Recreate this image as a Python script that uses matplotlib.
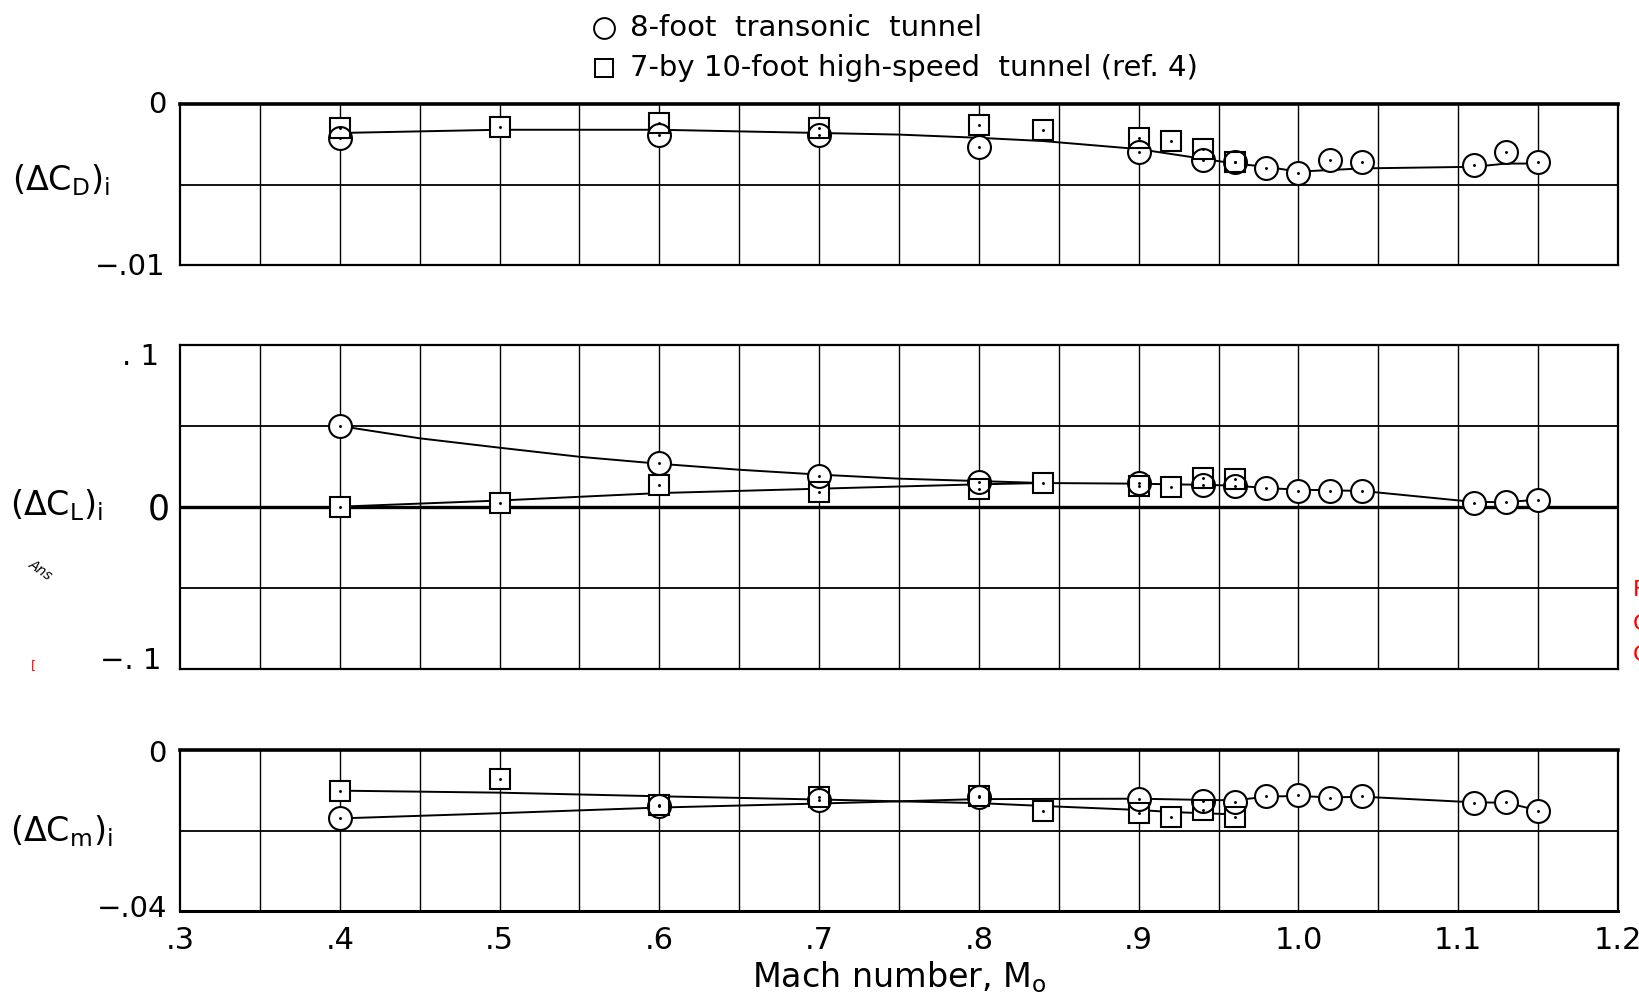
import numpy as np
import matplotlib
matplotlib.use("Agg")
import matplotlib.pyplot as plt

plt.rcParams['font.family'] = ['DejaVu Sans']
plt.rcParams['mathtext.fontset'] = 'dejavusans'

# ---------------- data ----------------
# 8-foot transonic tunnel (circles)
mach_8ft = [0.40, 0.60, 0.70, 0.80, 0.90, 0.94, 0.96, 0.98, 1.00, 1.02, 1.04, 1.11, 1.13, 1.15]
cd_8ft = [-0.0021, -0.0019, -0.0019, -0.0027, -0.0030, -0.0035, -0.0036, -0.0040, -0.0043,
          -0.0035, -0.0036, -0.0038, -0.0030, -0.0036]
cl_8ft = [0.050, 0.027, 0.019, 0.0155, 0.0150, 0.0135, 0.0130, 0.0115, 0.0100, 0.0100,
          0.0100, 0.0026, 0.0028, 0.0045]
cm_8ft = [-0.0168, -0.0138, -0.0124, -0.0116, -0.0122, -0.0127, -0.0129, -0.0114, -0.0112,
          -0.0120, -0.0115, -0.0131, -0.0130, -0.0151]

# 7- by 10-foot high-speed tunnel (squares)
mach_7x10 = [0.40, 0.50, 0.60, 0.70, 0.80, 0.84, 0.90, 0.92, 0.94, 0.96]
cd_7x10 = [-0.0015, -0.0014, -0.0012, -0.0015, -0.0013, -0.0016, -0.0021, -0.0023, -0.0028, -0.0036]
cl_7x10 = [0.0002, 0.0025, 0.0134, 0.0095, 0.0110, 0.0146, 0.0130, 0.0122, 0.0180, 0.0170]
cm_7x10 = [-0.0101, -0.0073, -0.0137, -0.0118, -0.0115, -0.0152, -0.0157, -0.0167, -0.0148, -0.0166]

# faired curves
fair_cd_mach = [0.40, 0.50, 0.60, 0.70, 0.75, 0.80, 0.84, 0.90, 0.94, 0.96, 0.98, 1.00,
                1.02, 1.04, 1.11, 1.13, 1.15]
fair_cd = [-0.0018, -0.0016, -0.0016, -0.0018, -0.0019, -0.0021, -0.0023, -0.0028, -0.0034,
           -0.0037, -0.0039, -0.0042, -0.0041, -0.0040, -0.0039, -0.0037, -0.0037]

fair_cl_8ft_mach = [0.40, 0.45, 0.50, 0.55, 0.60, 0.65, 0.70, 0.75, 0.80, 0.84, 0.90, 0.92,
                    0.94, 0.96, 0.98, 1.00, 1.02, 1.04, 1.11, 1.13, 1.15]
fair_cl_8ft = [0.050, 0.0424, 0.0366, 0.031, 0.0267, 0.023, 0.020, 0.0175, 0.016, 0.0148,
               0.0144, 0.0140, 0.0137, 0.0132, 0.0117, 0.0107, 0.0103, 0.0099, 0.0031,
               0.0030, 0.0045]
fair_cl_7x10_mach = [0.40, 0.50, 0.60, 0.70, 0.80, 0.84]
fair_cl_7x10 = [0.0002, 0.0040, 0.0086, 0.0113, 0.0140, 0.0148]

fair_cm_8ft_mach = [0.40, 0.50, 0.60, 0.70, 0.80, 0.90, 0.94, 0.96, 0.98, 1.00, 1.02, 1.04,
                    1.11, 1.13, 1.15]
fair_cm_8ft = [-0.0170, -0.0157, -0.0143, -0.0133, -0.0122, -0.0121, -0.0124, -0.0125,
               -0.0116, -0.0114, -0.0118, -0.0116, -0.0130, -0.0131, -0.0150]
fair_cm_7x10_mach = [0.40, 0.50, 0.60, 0.70, 0.80, 0.84, 0.90, 0.92, 0.94, 0.96]
fair_cm_7x10 = [-0.0101, -0.0106, -0.0115, -0.0123, -0.0132, -0.0139, -0.0149, -0.0154,
                -0.0157, -0.0160]

x_ticks = [0.3, 0.4, 0.5, 0.6, 0.7, 0.8, 0.9, 1.0, 1.1, 1.2]
x_tick_labels = ['.3', '.4', '.5', '.6', '.7', '.8', '.9', '1.0', '1.1', '1.2']

# ---------------- figure ----------------
W, H = 1639, 1000
fig = plt.figure(figsize=(W / 100, H / 100), dpi=100)


def px_axes(top, bottom, left=180, right=1618):
    return fig.add_axes([left / W, 1 - bottom / H, (right - left) / W, (bottom - top) / H])


ax_cd = px_axes(104, 265)
ax_cl = px_axes(345, 669)
ax_cm = px_axes(750, 911)

LW_GRID = 1.0
LW_DATA = 1.4


def style_axes(ax, ylim, hlines, thick_top=False):
    ax.set_xlim(0.3, 1.2)
    ax.set_ylim(*ylim)
    ax.set_xticks(x_ticks)
    ax.set_xticks(np.arange(0.35, 1.2, 0.1), minor=True)
    ax.tick_params(which='both', length=0, labelleft=False, labelbottom=False)
    ax.set_yticks([])
    for xv in list(x_ticks[1:-1]) + list(np.arange(0.35, 1.2, 0.1)):
        ax.axvline(xv, color='black', lw=LW_GRID, zorder=1)
    for yv, lw in hlines:
        ax.axhline(yv, color='black', lw=lw, zorder=1)
    for s in ax.spines.values():
        s.set_linewidth(1.6)
    if thick_top:
        ax.spines['top'].set_linewidth(2.6)


style_axes(ax_cd, (-0.01, 0.0), [(-0.005, 1.3)], thick_top=True)
style_axes(ax_cl, (-0.1, 0.1), [(0.05, 1.3), (0.0, 2.4), (-0.05, 1.3)])
style_axes(ax_cm, (-0.04, 0.0), [(-0.02, 1.3)], thick_top=True)
ax_cm.spines['bottom'].set_linewidth(2.2)

MS_C = 16.5
MS_S = 14.0
MEW = 1.5


def draw_points(ax, xs, ys, marker, ms):
    # white fill hides the faired line inside the symbol, outline drawn above
    ax.plot(xs, ys, ls='none', marker=marker, ms=ms, mfc='white', mec='none', zorder=3)
    ax.plot(xs, ys, ls='none', marker=marker, ms=ms, mfc='none', mec='black', mew=MEW, zorder=4)
    ax.plot(xs, ys, ls='none', marker='.', ms=2.2, color='black', zorder=5)


# drag increment
ax_cd.plot(fair_cd_mach, fair_cd, color='black', lw=LW_DATA, zorder=2)
draw_points(ax_cd, mach_7x10, cd_7x10, 's', MS_S)
draw_points(ax_cd, mach_8ft, cd_8ft, 'o', MS_C)

# lift increment
ax_cl.plot(fair_cl_8ft_mach, fair_cl_8ft, color='black', lw=LW_DATA, zorder=2)
ax_cl.plot(fair_cl_7x10_mach, fair_cl_7x10, color='black', lw=LW_DATA, zorder=2)
draw_points(ax_cl, mach_7x10, cl_7x10, 's', MS_S)
draw_points(ax_cl, mach_8ft, cl_8ft, 'o', MS_C)

# pitching-moment increment
ax_cm.plot(fair_cm_8ft_mach, fair_cm_8ft, color='black', lw=LW_DATA, zorder=2)
ax_cm.plot(fair_cm_7x10_mach, fair_cm_7x10, color='black', lw=LW_DATA, zorder=2)
draw_points(ax_cm, mach_7x10, cm_7x10, 's', MS_S)
draw_points(ax_cm, mach_8ft, cm_8ft, 'o', MS_C)

# ---------------- labels ----------------
PT = 72 / 100  # points per pixel
FS_TICK = 21


def ylab(ax, val, text, dx_px, dy_px=0, fs=FS_TICK):
    ax.annotate(text, xy=(0, val), xycoords=ax.get_yaxis_transform(),
                xytext=(dx_px * PT, dy_px * PT), textcoords='offset points',
                ha='right', va='center', fontsize=fs)


ylab(ax_cd, 0.0, '0', -13, -1)
ylab(ax_cd, -0.01, '\u2212.01', -14, -2)
ylab(ax_cl, 0.1, '. 1', -21, -12)
ylab(ax_cl, 0.0, '0', -10, -3, fs=25)
ylab(ax_cl, -0.1, '\u2212. 1', -19, 8)
ylab(ax_cm, 0.0, '0', -13, -4)
ylab(ax_cm, -0.04, '\u2212.04', -13, 2)

ax_cm.set_xticks(x_ticks, x_tick_labels)
ax_cm.tick_params(axis='x', which='major', labelbottom=True, pad=11, labelsize=22)
ax_cm.set_xlabel(r'Mach number, $\mathregular{M_o}$', fontsize=24, labelpad=3)

fig.text(12 / W, 1 - 180 / H, r'$\mathregular{(\Delta C_D)_i}$', fontsize=24, ha='left', va='center')
fig.text(10 / W, 1 - 505 / H, r'$\mathregular{(\Delta C_L)_i}$', fontsize=24, ha='left', va='center')
fig.text(10 / W, 1 - 831 / H, r'$\mathregular{(\Delta C_m)_i}$', fontsize=24, ha='left', va='center')

# key
fig.text(630 / W, 1 - 28 / H, '8-foot  transonic  tunnel', fontsize=21, ha='left', va='center')
fig.text(630 / W, 1 - 68 / H, '7-by 10-foot high-speed  tunnel (ref. 4)', fontsize=21,
         ha='left', va='center')
fig.lines.append(plt.Line2D([604 / W], [1 - 28 / H], transform=fig.transFigure, ls='none',
                            marker='o', ms=15, mfc='white', mec='black', mew=1.4))
fig.lines.append(plt.Line2D([604 / W], [1 - 68 / H], transform=fig.transFigure, ls='none',
                            marker='s', ms=13.5, mfc='white', mec='black', mew=1.4))

# stray marks along the sheet edges
fig.text(1633 / W, 1 - 590 / H, 'F', color='red', fontsize=16, ha='left', va='center')
fig.text(1633 / W, 1 - 624 / H, 'C', color='red', fontsize=16, ha='left', va='center')
fig.text(1633 / W, 1 - 655 / H, 'C', color='red', fontsize=16, ha='left', va='center')
fig.text(31 / W, 1 - 666 / H, '[', color='red', fontsize=9, ha='left', va='center')
fig.text(40 / W, 1 - 570 / H, 'Ans', fontsize=10, style='italic', rotation=-35,
         ha='center', va='center')

fig.savefig('out.png', dpi=100, facecolor='white')
